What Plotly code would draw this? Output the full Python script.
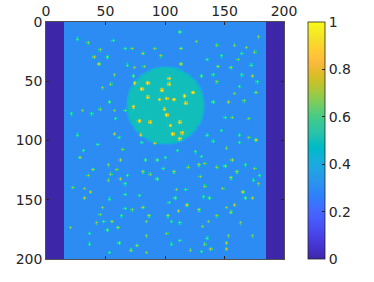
import numpy as np
import plotly.graph_objects as go

# ---------------- data ----------------
N = 200
background_value = 0.3
border_value = 0.0
border_left_cols = 15
border_right_cols = 15
disk_value = 0.5
disk_cx, disk_cy, disk_r = 100.5, 70.5, 32.5
dot_amp = 0.5

dot_x = [26, 35, 56, 45, 66, 40, 51, 44, 57, 54, 47, 53, 21, 30, 38, 45, 57, 66, 58, 26, 57, 61,
         112, 126, 72, 91, 113, 81, 96, 68, 74, 82, 113, 73, 130, 74, 85, 103, 103, 80, 97, 123, 116,
         85, 95, 101, 107, 117, 73, 99, 101, 78, 87, 112, 104, 114, 106, 79, 112,
         178, 143, 158, 168, 147, 164, 175, 135, 161, 144, 155, 172, 140, 164, 173, 143, 177, 162,
         158, 176, 166, 140, 153, 150, 156, 170, 147, 135, 162, 170, 176, 140, 162,
         43, 64, 31, 28, 62, 52, 39, 59, 35, 54, 62, 52, 66, 22, 32, 37, 66, 32, 53, 47, 66, 45, 63,
         42, 48, 55, 20, 60, 51, 36, 61, 36, 53,
         80, 91, 110, 125, 130, 83, 93, 100, 128, 133, 119, 98, 81, 87, 107, 68, 129, 93, 133, 109,
         117, 78, 132, 108, 103, 118, 81, 72, 111, 128, 86, 102, 84, 105, 112, 131, 101, 84, 112, 133,
         76, 105, 71, 121, 84, 130,
         151, 156, 143, 150, 167, 175, 160, 179, 155, 174, 178, 148, 165, 137, 167, 173, 158, 151,
         155, 143, 136, 163, 135, 153, 173, 151, 138, 151]
dot_y = [14, 17, 15, 23, 22, 29, 29, 35, 44, 52, 55, 67, 77, 74, 77, 73, 74, 74, 81, 95, 94, 97,
         8, 16, 22, 22, 22, 26, 28, 36, 38, 37, 35, 45, 45, 51, 51, 47, 52, 56, 57, 59, 62,
         63, 65, 64, 65, 68, 71, 73, 78, 83, 84, 84, 87, 93, 94, 95, 98,
         12, 19, 19, 21, 28, 26, 25, 31, 31, 37, 38, 36, 44, 44, 45, 50, 50, 54,
         60, 59, 66, 67, 67, 80, 80, 81, 91, 95, 95, 97, 99, 100, 101,
         103, 107, 108, 114, 116, 120, 124, 124, 129, 128, 132, 133, 136, 139, 140, 143, 145, 148,
         149, 156, 157, 162, 163, 169, 168, 168, 173, 173, 175, 178, 186, 187, 194,
         101, 102, 108, 109, 113, 116, 116, 114, 120, 119, 122, 123, 126, 128, 126, 129, 130, 132,
         138, 141, 141, 146, 147, 148, 152, 154, 156, 158, 159, 158, 163, 163, 168, 168, 169, 172,
         178, 180, 184, 187, 188, 187, 192, 192, 194, 193,
         106, 116, 122, 121, 120, 123, 126, 129, 131, 133, 136, 140, 143, 148, 148, 148, 154, 156,
         160, 163, 168, 169, 182, 180, 180, 186, 191, 191]

x_ticks = [0, 50, 100, 150, 200]
y_ticks = [0, 50, 100, 150, 200]
cbar_ticks = [0, 0.2, 0.4, 0.6, 0.8, 1]
cbar_labels = ["0", "0.2", "0.4", "0.6", "0.8", "1"]

parula = [
    (0.2422, 0.1504, 0.6603), (0.2504, 0.1650, 0.7076), (0.2578, 0.1818, 0.7511), (0.2647, 0.1978, 0.7952),
    (0.2706, 0.2147, 0.8364), (0.2751, 0.2342, 0.8710), (0.2783, 0.2559, 0.8991), (0.2803, 0.2782, 0.9221),
    (0.2813, 0.3006, 0.9414), (0.2810, 0.3228, 0.9579), (0.2795, 0.3447, 0.9717), (0.2760, 0.3667, 0.9829),
    (0.2699, 0.3892, 0.9906), (0.2602, 0.4123, 0.9952), (0.2440, 0.4358, 0.9988), (0.2206, 0.4603, 0.9973),
    (0.1963, 0.4847, 0.9892), (0.1834, 0.5074, 0.9798), (0.1786, 0.5289, 0.9682), (0.1764, 0.5499, 0.9520),
    (0.1687, 0.5703, 0.9359), (0.1540, 0.5902, 0.9218), (0.1460, 0.6091, 0.9079), (0.1380, 0.6276, 0.8973),
    (0.1248, 0.6459, 0.8883), (0.1113, 0.6635, 0.8763), (0.0952, 0.6798, 0.8598), (0.0689, 0.6948, 0.8394),
    (0.0297, 0.7082, 0.8163), (0.0036, 0.7203, 0.7917), (0.0067, 0.7312, 0.7660), (0.0433, 0.7411, 0.7394),
    (0.0964, 0.7500, 0.7120), (0.1408, 0.7584, 0.6842), (0.1717, 0.7670, 0.6554), (0.1938, 0.7758, 0.6251),
    (0.2161, 0.7843, 0.5923), (0.2470, 0.7918, 0.5567), (0.2906, 0.7973, 0.5188), (0.3406, 0.8008, 0.4789),
    (0.3909, 0.8029, 0.4354), (0.4456, 0.8024, 0.3909), (0.5044, 0.7993, 0.3480), (0.5616, 0.7942, 0.3045),
    (0.6174, 0.7876, 0.2612), (0.6720, 0.7793, 0.2227), (0.7242, 0.7698, 0.1910), (0.7738, 0.7598, 0.1646),
    (0.8203, 0.7498, 0.1535), (0.8634, 0.7406, 0.1596), (0.9035, 0.7330, 0.1774), (0.9393, 0.7288, 0.2100),
    (0.9728, 0.7298, 0.2394), (0.9956, 0.7434, 0.2371), (0.9970, 0.7659, 0.2199), (0.9952, 0.7893, 0.2028),
    (0.9892, 0.8136, 0.1885), (0.9786, 0.8386, 0.1766), (0.9676, 0.8639, 0.1643), (0.9610, 0.8890, 0.1537),
    (0.9597, 0.9135, 0.1423), (0.9628, 0.9373, 0.1265), (0.9691, 0.9606, 0.1064), (0.9769, 0.9839, 0.0805),
]
colorscale = [[i / (len(parula) - 1), "rgb(%d,%d,%d)" % tuple(round(c * 255) for c in p)]
              for i, p in enumerate(parula)]

# ---------------- build the image ----------------
centers = np.arange(N) + 0.5
X, Y = np.meshgrid(centers, centers)
z = np.full((N, N), background_value)
d = np.hypot(X - disk_cx, Y - disk_cy)
t = np.clip((disk_r - d) / 2.5 + 0.5, 0, 1)
z = z + (disk_value - background_value) * t

kernel = np.array([[0.0, 0.0, 0.10, 0.0, 0.0],
                   [0.0, 0.30, 0.55, 0.30, 0.0],
                   [0.10, 0.55, 1.00, 0.55, 0.10],
                   [0.0, 0.30, 0.55, 0.30, 0.0],
                   [0.0, 0.0, 0.10, 0.0, 0.0]])
for cx, cy in zip(dot_x, dot_y):
    r0, c0 = int(cy), int(cx)
    z[r0 - 2:r0 + 3, c0 - 2:c0 + 3] += dot_amp * kernel

z[:, :border_left_cols] = border_value
z[:, N - border_right_cols:] = border_value
z = np.clip(z, 0, 1)

fig = go.Figure(go.Heatmap(
    z=z, x=centers, y=centers,
    colorscale=colorscale, zmin=0, zmax=1,
    colorbar=dict(
        tickvals=cbar_ticks, ticktext=cbar_labels,
        ticks="inside", ticklen=3, tickcolor="#262626",
        thickness=17, thicknessmode="pixels",
        len=1, lenmode="fraction", y=1, yanchor="top", ypad=0,
        x=1.1, xanchor="left", xpad=0,
        outlinecolor="#262626", outlinewidth=0.8,
        tickfont=dict(family="DejaVu Sans", size=14, color="#262626"),
    ),
    hoverinfo="skip",
))

axis_common = dict(
    showline=True, linecolor="#262626", linewidth=0.8, mirror="ticks",
    ticks="inside", ticklen=3, tickcolor="#262626",
    showgrid=False, zeroline=False, automargin=False,
    tickfont=dict(family="DejaVu Sans", size=14, color="#262626"),
)
fig.update_layout(
    width=374, height=282,
    margin=dict(l=46, r=90, t=22, b=23, autoexpand=False),
    paper_bgcolor="white", plot_bgcolor="white",
    xaxis=dict(range=[0, 200], side="top", tickvals=x_ticks, **axis_common),
    yaxis=dict(range=[200, 0], tickvals=y_ticks, **axis_common),
)
fig.write_html("out.html", config={"displayModeBar": False, "staticPlot": True},
               post_script="document.body.style.margin='0';")
